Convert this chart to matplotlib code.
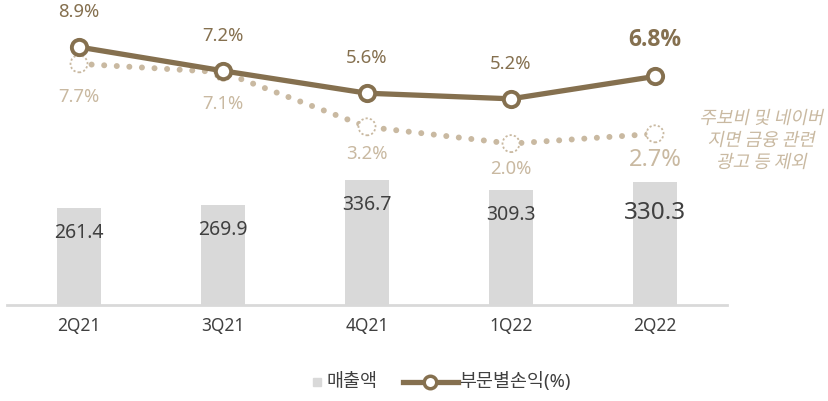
import matplotlib
matplotlib.use("Agg")
import matplotlib.pyplot as plt
from matplotlib.lines import Line2D
from matplotlib.patches import PathPatch, Rectangle
from matplotlib.textpath import TextPath
from matplotlib.font_manager import FontProperties
from matplotlib.transforms import Affine2D, IdentityTransform
import numpy as np

plt.rcParams['font.family'] = ['Noto Sans', 'Noto Sans CJK KR', 'DejaVu Sans']

# data
quarters = ["2Q21", "3Q21", "4Q21", "1Q22", "2Q22"]
sales = [261.4, 269.9, 336.7, 309.3, 330.3]
margin = [8.9, 7.2, 5.6, 5.2, 6.8]
margin_excl = [7.7, 7.1, 3.2, 2.0, 2.7]
note_lines = ["주보비 및 네이버", "지면 금융 관련", "광고 등 제외"]
legend_labels = ["매출액", "부문별손익(%)"]

BROWN = "#85704f"
BEIGE = "#c9b9a1"
BAR = "#d9d9d9"
TXT = "#404040"

W, H = 829, 401
fig = plt.figure(figsize=(W / 100, H / 100), dpi=100)
ax = fig.add_axes([7 / W, 1 - 305 / H, 720 / W, 305 / H])
ax2 = ax.twinx()

x = np.arange(len(quarters))

# bars
ax.bar(x, sales, width=0.31, color=BAR, zorder=1)
ax.set_xlim(-0.5, 4.5)
ax.set_ylim(0, 822)
for i, v in enumerate(sales):
    big = i == len(sales) - 1
    ax.annotate(f"{v:.1f}", (x[i], v), xytext=(0, -18 if not big else -22),
                textcoords="offset points", ha="center", va="center",
                fontsize=17.5 if big else 14, color=TXT)

for s in ["top", "left", "right"]:
    ax.spines[s].set_visible(False)
    ax2.spines[s].set_visible(False)
ax2.spines["bottom"].set_visible(False)
ax.spines["bottom"].set_color(BAR)
ax.spines["bottom"].set_linewidth(2)
ax.set_yticks([])
ax2.set_yticks([])
ax.set_xticks(x)
ax.set_xticklabels(quarters, fontsize=12.5, color=TXT)
ax.tick_params(axis="x", length=0, pad=9)

# lines
ax2.set_ylim(-9.53, 12.26)
ax2.plot(x, margin_excl, color=BEIGE, lw=4.3, linestyle=(0, (0.01, 2.1)),
         dash_capstyle="round", zorder=2)
ax2.scatter(x, margin_excl, s=150, facecolor="white", edgecolor=BEIGE,
            linewidths=1.3, linestyle=(0, (1.2, 1.2)), zorder=3)
ax2.plot(x, margin, color=BROWN, lw=3.8, marker="o", markersize=11,
         markerfacecolor="white", markeredgecolor=BROWN, markeredgewidth=2.8,
         zorder=4)

for i, v in enumerate(margin):
    big = i == len(margin) - 1
    ax2.annotate(f"{v:.1f}%", (x[i], v), xytext=(0, 25 if not big else 26),
                 textcoords="offset points", ha="center", va="center",
                 fontsize=16.5 if big else 13.3, color=BROWN,
                 family=["Open Sans", "DejaVu Sans"] if big else None,
                 fontweight="bold" if big else "normal")
below = [24, 23, 19.5, 18.5, 19]
for i, v in enumerate(margin_excl):
    big = i == len(margin_excl) - 1
    ax2.annotate(f"{v:.1f}%", (x[i], v), xytext=(0, -below[i]),
                 textcoords="offset points", ha="center", va="center",
                 fontsize=17 if big else 13.3, color=BEIGE)

# italic note (sheared text paths)
prop = FontProperties(family="Noto Sans CJK KR")
for k, line in enumerate(note_lines):
    tp = TextPath((0, 0), line, size=18, prop=prop)
    ext = tp.get_extents()
    cx = (ext.x0 + ext.x1) / 2
    cy = (ext.y0 + ext.y1) / 2
    y_disp = H - (117 + 22 * k)
    tr = Affine2D().translate(-cx, -cy).skew_deg(12, 0).translate(762, y_disp)
    fig.add_artist(PathPatch(tr.transform_path(tp), facecolor=BEIGE,
                             edgecolor="none", transform=IdentityTransform()))

# legend, drawn by hand
ly = 1 - 382 / H
fig.add_artist(Rectangle((313 / W, ly - 4 / H), 8 / W, 8 / H, color=BAR,
                         transform=fig.transFigure))
fig.text(327 / W, ly, legend_labels[0], ha="left", va="center",
         fontsize=13.3, color=TXT)
fig.add_artist(Line2D([403 / W, 458 / W], [ly, ly], color=BROWN, lw=3.8,
                      transform=fig.transFigure))
fig.add_artist(Line2D([430 / W], [ly], marker="o", markersize=9,
                      markerfacecolor="white", markeredgecolor=BROWN,
                      markeredgewidth=2.5, transform=fig.transFigure))
fig.text(459 / W, ly, legend_labels[1], ha="left", va="center",
         fontsize=13.3, color=TXT)

fig.savefig("out.png", dpi=100)
